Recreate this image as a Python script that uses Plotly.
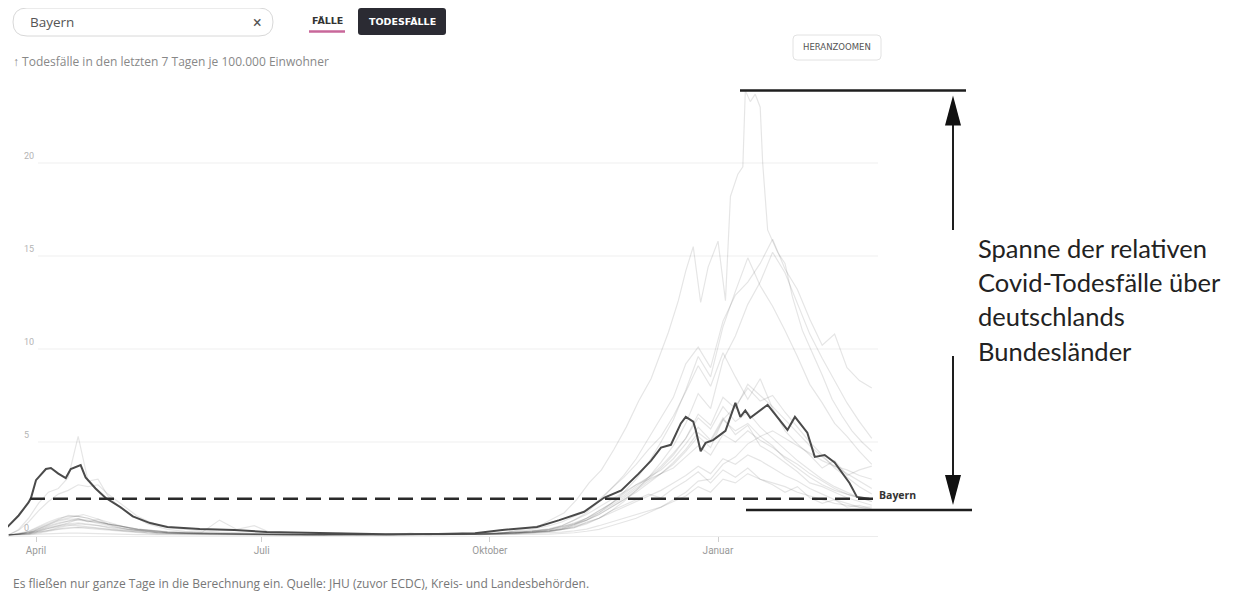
import pandas as pd
import plotly.graph_objects as go

# ---------------- data ----------------
# shared date grid for the other Länder (4-day in spring, weekly in summer, 5-day in winter)
grid_dates = (list(pd.date_range("2020-03-21", "2020-05-24", freq="4D"))
              + list(pd.date_range("2020-05-31", "2020-10-25", freq="7D"))
              + list(pd.date_range("2020-10-30", "2021-03-04", freq="5D")))

thueringen = [0.0, 0.02, 0.08, 0.2, 0.35, 0.5, 0.65, 0.85, 0.8, 0.7, 0.6, 0.5, 0.4, 0.3, 0.25, 0.2, 0.15,
              0.12, 0.1, 0.06, 0.05, 0.04, 0.02, 0.0, 0.0, 0.0, 0.0, 0.0, 0.02, 0.0, 0.0, 0.0, 0.02, 0.02, 0.05, 0.05, 0.1, 0.18, 0.3,
              0.5, 0.8, 1.2, 1.8, 2.5, 3.2, 4.1, 5.2, 6.3, 7.4, 9.2, 10.1, 9.0, 11.5, 12.9, 13.6, 14.6, 15.9, 14.3, 13.2, 11.6, 10.2, 10.8, 9.0, 8.3, 7.9]
sachsen_anhalt = [0.0, 0.0, 0.03, 0.1, 0.2, 0.3, 0.35, 0.4, 0.35, 0.3, 0.25, 0.2, 0.15, 0.1, 0.08, 0.05, 0.05,
                  0.04, 0.03, 0.02, 0.02, 0.0, 0.0, 0.0, 0.0, 0.0, 0.0, 0.0, 0.0, 0.0, 0.0, 0.0, 0.0, 0.02, 0.02, 0.04, 0.06, 0.1, 0.18,
                  0.3, 0.5, 0.8, 1.2, 1.7, 2.3, 3.0, 3.9, 5.0, 6.2, 7.8, 9.6, 8.5, 11.2, 13.1, 14.9, 13.4, 12.3, 11.0, 9.6, 8.1, 7.1, 6.0, 5.3, 4.5, 3.8]
brandenburg = [0.0, 0.02, 0.06, 0.15, 0.25, 0.4, 0.5, 0.6, 0.55, 0.5, 0.4, 0.3, 0.25, 0.2, 0.15, 0.12, 0.1,
               0.08, 0.06, 0.05, 0.04, 0.02, 0.02, 0.0, 0.0, 0.0, 0.0, 0.0, 0.0, 0.0, 0.0, 0.0, 0.02, 0.02, 0.04, 0.05, 0.08, 0.12, 0.2,
               0.3, 0.4, 0.6, 0.9, 1.3, 1.8, 2.4, 3.1, 3.9, 4.8, 6.0, 7.6, 6.8, 9.4, 10.7, 12.4, 13.6, 15.2, 14.1, 12.5, 10.8, 9.5, 8.3, 7.1, 6.1, 5.2]
berlin = [0.0, 0.03, 0.1, 0.2, 0.35, 0.45, 0.55, 0.5, 0.45, 0.4, 0.32, 0.25, 0.2, 0.15, 0.12, 0.1, 0.08,
          0.07, 0.06, 0.05, 0.04, 0.03, 0.02, 0.02, 0.02, 0.01, 0.02, 0.02, 0.02, 0.03, 0.03, 0.04, 0.05, 0.06, 0.08, 0.1, 0.15, 0.2, 0.3,
          0.45, 0.6, 0.8, 1.1, 1.5, 1.9, 2.3, 2.8, 3.3, 3.8, 4.5, 5.3, 4.7, 6.2, 6.9, 7.9, 7.2, 7.5, 6.6, 5.8, 5.0, 4.3, 3.6, 3.1, 2.6, 2.2]
hessen = [0.0, 0.08, 0.2, 0.45, 0.7, 0.9, 1.0, 1.0, 0.9, 0.75, 0.6, 0.5, 0.4, 0.32, 0.26, 0.2, 0.16,
          0.12, 0.1, 0.08, 0.06, 0.05, 0.04, 0.03, 0.03, 0.02, 0.02, 0.02, 0.03, 0.03, 0.04, 0.04, 0.05, 0.06, 0.08, 0.1, 0.14, 0.2, 0.3,
          0.45, 0.65, 0.9, 1.2, 1.6, 2.0, 2.5, 3.0, 3.6, 4.3, 5.2, 6.5, 5.9, 7.4, 6.8, 8.1, 7.5, 6.9, 6.2, 5.5, 4.8, 4.2, 3.7, 3.3, 2.9, 2.5]
saarland = [0.0, 0.3, 0.9, 1.7, 2.3, 2.5, 3.1, 5.3, 2.9, 3.0, 2.1, 1.6, 1.2, 0.9, 0.6, 0.45, 0.3,
            0.2, 0.15, 0.8, 0.3, 0.5, 0.1, 0.1, 0.0, 0.0, 0.1, 0.0, 0.0, 0.0, 0.1, 0.0, 0.0, 0.1, 0.0, 0.1, 0.2, 0.3, 0.5,
            0.7, 1.0, 1.3, 1.9, 2.5, 3.1, 3.8, 4.6, 5.3, 6.4, 7.7, 9.1, 8.0, 9.8, 8.5, 7.3, 8.4, 6.8, 5.6, 4.9, 4.3, 3.6, 4.0, 3.2, 3.5, 3.7]
baden_wuerttemberg = [0.02, 0.25, 0.7, 1.3, 1.8, 2.2, 2.4, 2.7, 2.6, 2.7, 2.2, 1.8, 1.4, 1.0, 0.75, 0.55, 0.4,
                      0.3, 0.22, 0.16, 0.12, 0.09, 0.06, 0.05, 0.04, 0.03, 0.02, 0.02, 0.02, 0.02, 0.03, 0.03, 0.04, 0.05, 0.06, 0.08, 0.11, 0.16, 0.26,
                      0.4, 0.6, 0.9, 1.3, 1.7, 2.1, 2.6, 3.1, 3.7, 4.4, 5.2, 6.3, 5.7, 6.9, 6.1, 6.6, 5.8, 5.2, 4.6, 4.0, 3.5, 3.0, 2.6, 2.3, 2.0, 1.8]
nordrhein_westfalen = [0.0, 0.04, 0.12, 0.3, 0.5, 0.65, 0.75, 0.8, 0.75, 0.68, 0.58, 0.48, 0.4, 0.32, 0.26, 0.2, 0.18,
                       0.15, 0.12, 0.1, 0.09, 0.08, 0.06, 0.05, 0.04, 0.04, 0.04, 0.03, 0.03, 0.03, 0.04, 0.04, 0.05, 0.06, 0.08, 0.1, 0.15, 0.22, 0.35,
                       0.5, 0.8, 1.1, 1.5, 1.9, 2.3, 2.7, 3.0, 3.3, 3.6, 4.2, 4.8, 4.3, 5.4, 5.0, 5.6, 5.1, 4.7, 4.2, 3.8, 3.3, 2.9, 2.5, 2.2, 2.0, 1.8]
rheinland_pfalz = [0.0, 0.05, 0.15, 0.35, 0.55, 0.75, 0.85, 0.85, 0.75, 0.62, 0.5, 0.4, 0.3, 0.25, 0.2, 0.15, 0.12,
                   0.1, 0.08, 0.06, 0.05, 0.04, 0.03, 0.02, 0.02, 0.02, 0.01, 0.01, 0.02, 0.02, 0.02, 0.03, 0.03, 0.04, 0.05, 0.07, 0.1, 0.15, 0.22,
                   0.35, 0.55, 0.8, 1.1, 1.5, 1.9, 2.4, 2.9, 3.3, 3.9, 4.6, 5.5, 5.0, 6.2, 5.6, 6.0, 5.3, 4.8, 4.1, 3.6, 3.1, 2.7, 2.4, 2.2, 2.0, 1.9]
niedersachsen = [0.0, 0.04, 0.12, 0.25, 0.4, 0.5, 0.6, 0.65, 0.6, 0.52, 0.44, 0.36, 0.3, 0.24, 0.2, 0.15, 0.12,
                 0.1, 0.08, 0.07, 0.06, 0.05, 0.04, 0.03, 0.03, 0.02, 0.02, 0.02, 0.02, 0.02, 0.02, 0.03, 0.03, 0.04, 0.05, 0.07, 0.1, 0.15, 0.22,
                 0.3, 0.45, 0.65, 0.9, 1.2, 1.5, 1.8, 2.1, 2.4, 2.8, 3.2, 3.7, 3.3, 4.1, 3.8, 4.3, 4.0, 3.6, 3.2, 2.9, 2.5, 2.2, 1.9, 1.7, 1.5, 1.35]
hamburg = [0.0, 0.05, 0.18, 0.4, 0.65, 0.85, 1.05, 1.0, 0.9, 0.72, 0.55, 0.42, 0.32, 0.24, 0.18, 0.12, 0.1,
           0.08, 0.06, 0.05, 0.04, 0.03, 0.02, 0.02, 0.0, 0.0, 0.02, 0.0, 0.0, 0.02, 0.02, 0.03, 0.04, 0.05, 0.06, 0.08, 0.1, 0.16, 0.24,
           0.35, 0.55, 0.9, 1.3, 1.7, 2.2, 2.7, 3.1, 3.5, 4.1, 4.9, 5.8, 5.1, 6.3, 5.4, 5.9, 4.8, 4.4, 3.9, 3.4, 2.8, 2.6, 2.3, 2.0, 1.8, 1.6]
bremen = [0.0, 0.04, 0.1, 0.25, 0.45, 0.6, 0.75, 0.9, 0.7, 0.85, 0.6, 0.5, 0.4, 0.32, 0.28, 0.2, 0.15,
          0.12, 0.1, 0.08, 0.05, 0.04, 0.02, 0.0, 0.0, 0.0, 0.0, 0.02, 0.0, 0.0, 0.0, 0.02, 0.0, 0.03, 0.05, 0.07, 0.1, 0.14, 0.2,
          0.3, 0.4, 0.7, 0.9, 1.3, 1.6, 1.9, 2.2, 2.0, 2.5, 2.9, 3.4, 2.8, 3.5, 3.1, 3.6, 3.0, 2.7, 2.3, 2.6, 2.0, 1.7, 1.9, 1.5, 1.6, 1.4]
schleswig_holstein = [0.0, 0.02, 0.06, 0.15, 0.25, 0.33, 0.4, 0.42, 0.4, 0.35, 0.3, 0.25, 0.2, 0.15, 0.12, 0.1, 0.08,
                      0.06, 0.05, 0.04, 0.03, 0.02, 0.02, 0.01, 0.01, 0.01, 0.01, 0.01, 0.01, 0.01, 0.01, 0.02, 0.02, 0.03, 0.03, 0.04, 0.06, 0.08, 0.1,
                      0.15, 0.22, 0.32, 0.5, 0.7, 0.9, 1.1, 1.3, 1.5, 1.8, 2.1, 2.6, 2.3, 3.0, 2.8, 3.3, 3.0, 2.8, 2.6, 2.3, 2.1, 1.9, 1.7, 1.6, 1.5, 1.5]
mecklenburg_vorpommern = [0.0, 0.0, 0.02, 0.05, 0.08, 0.1, 0.1, 0.1, 0.08, 0.06, 0.05, 0.04, 0.03, 0.02, 0.02, 0.01, 0.01,
                          0.01, 0.01, 0.0, 0.0, 0.0, 0.0, 0.0, 0.0, 0.0, 0.0, 0.0, 0.0, 0.0, 0.0, 0.0, 0.0, 0.0, 0.01, 0.01, 0.02, 0.03, 0.05,
                          0.08, 0.12, 0.2, 0.3, 0.5, 0.7, 0.9, 1.2, 1.5, 1.9, 2.3, 2.9, 3.0, 3.8, 4.2, 4.9, 5.3, 5.6, 5.2, 4.8, 4.4, 4.0, 3.7, 3.5, 3.2, 3.0]

# Sachsen (own dates, the sharp January peak)
sachsen_dates = ["2020-03-21", "2020-03-31", "2020-04-10", "2020-04-20", "2020-04-30", "2020-05-10", "2020-05-20",
                 "2020-06-10", "2020-07-15", "2020-08-19", "2020-09-16", "2020-10-07", "2020-10-21", "2020-10-31",
                 "2020-11-05", "2020-11-10", "2020-11-15", "2020-11-20", "2020-11-25", "2020-11-30", "2020-12-05",
                 "2020-12-09", "2020-12-12", "2020-12-16", "2020-12-19", "2020-12-22", "2020-12-25", "2020-12-28",
                 "2021-01-01", "2021-01-04", "2021-01-06", "2021-01-09", "2021-01-11", "2021-01-12", "2021-01-14",
                 "2021-01-16", "2021-01-18", "2021-01-19", "2021-01-21", "2021-01-25", "2021-01-28", "2021-01-31",
                 "2021-02-04", "2021-02-08", "2021-02-12", "2021-02-16", "2021-02-20", "2021-02-24", "2021-02-28",
                 "2021-03-04"]
sachsen_values = [0.0, 0.2, 0.8, 1.1, 0.7, 0.3, 0.15,
                  0.05, 0.0, 0.0, 0.05, 0.12, 0.5, 1.2,
                  1.9, 2.8, 3.5, 4.6, 5.8, 7.2, 8.4,
                  9.8, 10.9, 12.6, 14.2, 15.5, 12.5, 14.4,
                  15.8, 12.6, 18.2, 19.4, 19.8, 23.9, 23.3,
                  23.7, 23.0, 20.0, 16.4, 15.2, 14.6, 12.8,
                  11.0, 9.8, 8.6, 7.3, 6.4, 5.6, 5.0,
                  4.5]

# Bayern (highlighted)
bayern_dates = ["2020-03-20", "2020-03-25", "2020-03-29", "2020-03-30", "2020-04-01", "2020-04-05", "2020-04-07",
                "2020-04-10", "2020-04-13", "2020-04-15", "2020-04-19", "2020-04-21", "2020-04-25", "2020-04-29",
                "2020-05-05", "2020-05-10", "2020-05-17", "2020-05-24", "2020-06-06", "2020-06-20", "2020-07-03",
                "2020-07-29", "2020-08-20", "2020-09-10", "2020-09-25", "2020-10-06", "2020-10-20", "2020-10-29",
                "2020-11-08", "2020-11-16", "2020-11-23", "2020-11-30", "2020-12-05", "2020-12-09", "2020-12-13",
                "2020-12-17", "2020-12-19", "2020-12-22", "2020-12-23", "2020-12-25", "2020-12-27", "2020-12-30",
                "2021-01-04", "2021-01-08", "2021-01-10", "2021-01-12", "2021-01-14", "2021-01-21", "2021-01-29",
                "2021-02-01", "2021-02-06", "2021-02-09", "2021-02-13", "2021-02-17", "2021-02-23", "2021-02-26",
                "2021-03-03"]
bayern_values = [0.37, 1.05, 1.75, 2.0, 2.95, 3.55, 3.6,
                 3.3, 3.06, 3.55, 3.76, 3.1, 2.5, 2.0,
                 1.5, 1.0, 0.64, 0.43, 0.32, 0.27, 0.16,
                 0.08, 0.04, 0.05, 0.1, 0.27, 0.43, 0.8,
                 1.25, 2.0, 2.4, 3.3, 4.0, 4.7, 4.85,
                 6.0, 6.35, 6.1, 5.65, 4.5, 4.95, 5.1,
                 5.6, 7.1, 6.35, 6.7, 6.3, 7.0, 5.65,
                 6.35, 5.5, 4.2, 4.3, 3.9, 2.8, 2.05,
                 1.95]

other_states = {
    "Thüringen": thueringen, "Sachsen-Anhalt": sachsen_anhalt, "Brandenburg": brandenburg,
    "Berlin": berlin, "Hessen": hessen, "Saarland": saarland, "Baden-Württemberg": baden_wuerttemberg,
    "Nordrhein-Westfalen": nordrhein_westfalen, "Rheinland-Pfalz": rheinland_pfalz,
    "Niedersachsen": niedersachsen, "Hamburg": hamburg, "Bremen": bremen,
    "Schleswig-Holstein": schleswig_holstein, "Mecklenburg-Vorpommern": mecklenburg_vorpommern,
}

x_tickvals = ["2020-04-01", "2020-07-01", "2020-10-01", "2021-01-01"]
x_ticktext = ["April", "Juli", "Oktober", "Januar"]
y_ticks = [0, 5, 10, 15, 20]

# ---------------- layout geometry (reference pixel coords) ----------------
W, H = 1247, 596
OFF = 8                   # page body margin of the browser
X0, X1 = 8, 878           # plot area in reference px
Y_TOP, Y_BOT = 76, 536
YMIN = -0.054
YMAX = YMIN + (Y_BOT - Y_TOP) / 18.6


def px(x):
    return (x - X0) / (X1 - X0)


def py(y):
    return (Y_BOT - y) / (Y_BOT - Y_TOP)


def vpx(v):  # value -> reference pixel y
    return Y_BOT - (v - YMIN) / (YMAX - YMIN) * (Y_BOT - Y_TOP)


def rrect(x0, y0, x1, y1, r):
    return (f"M{px(x0 + r)},{py(y0)} L{px(x1 - r)},{py(y0)} Q{px(x1)},{py(y0)} {px(x1)},{py(y0 + r)} "
            f"L{px(x1)},{py(y1 - r)} Q{px(x1)},{py(y1)} {px(x1 - r)},{py(y1)} "
            f"L{px(x0 + r)},{py(y1)} Q{px(x0)},{py(y1)} {px(x0)},{py(y1 - r)} "
            f"L{px(x0)},{py(y0 + r)} Q{px(x0)},{py(y0)} {px(x0 + r)},{py(y0)} Z")


fig = go.Figure()

GRAY = "rgba(0,0,0,0.10)"
for name, vals in other_states.items():
    fig.add_trace(go.Scatter(x=grid_dates, y=vals, mode="lines", name=name,
                             line=dict(color=GRAY, width=1.2), hoverinfo="skip"))
fig.add_trace(go.Scatter(x=sachsen_dates, y=sachsen_values, mode="lines", name="Sachsen",
                         line=dict(color=GRAY, width=1.2), hoverinfo="skip"))
fig.add_trace(go.Scatter(x=bayern_dates, y=bayern_values, mode="lines", name="Bayern",
                         line=dict(color="#4a4a4a", width=2), hoverinfo="skip"))

UI = "Roboto, Arial, sans-serif"
OS = "'Open Sans', Roboto, sans-serif"
DJ = "'DejaVu Sans', sans-serif"
shapes = []
annotations = []

# gridlines (start right of the labels)
for v in y_ticks[1:]:
    shapes.append(dict(type="line", xref="paper", yref="y", x0=px(38), x1=1, y0=v, y1=v,
                       line=dict(color="#efefef", width=1), layer="below"))
for v in y_ticks:
    annotations.append(dict(xref="paper", yref="y", x=px(22), y=v, text=str(v), showarrow=False,
                            xanchor="left", yanchor="middle", yshift=7,
                            font=dict(family=UI, size=9, color="#b4b4b4")))

# dashed reference line at Bayern's current value
cur = bayern_values[-1]
shapes.append(dict(type="line", xref="paper", yref="y", x0=px(30), x1=px(875), y0=cur, y1=cur,
                   line=dict(color="#2a2a2a", width=2.5, dash="15px,8px")))
annotations.append(dict(xref="x", yref="y", x=bayern_dates[-1], y=cur, text="<b>Bayern</b>",
                        showarrow=False, xanchor="left", yanchor="middle", xshift=8, yshift=4,
                        font=dict(family=OS, size=10.5, color="#333")))

# span annotation
all_vals = sachsen_values + bayern_values + [v for s in other_states.values() for v in s]
vmax = max(all_vals)
last_vals = [sachsen_values[-1], bayern_values[-1]] + [s[-1] for s in other_states.values()]
vmin = min(last_vals)
ty, by = vpx(vmax), vpx(vmin)
ax = 953
shapes += [
    dict(type="line", xref="paper", yref="paper", x0=px(740), x1=px(966), y0=py(ty), y1=py(ty),
         line=dict(color="#1e1e1e", width=2.5)),
    dict(type="line", xref="paper", yref="paper", x0=px(746), x1=px(972), y0=py(by), y1=py(by),
         line=dict(color="#1e1e1e", width=2.5)),
    dict(type="line", xref="paper", yref="paper", x0=px(ax), x1=px(ax), y0=py(ty + 32), y1=py(230),
         line=dict(color="#1e1e1e", width=2)),
    dict(type="line", xref="paper", yref="paper", x0=px(ax), x1=px(ax), y0=py(356), y1=py(by - 32),
         line=dict(color="#1e1e1e", width=2)),
    dict(type="path", xref="paper", yref="paper",
         path=f"M{px(ax)},{py(ty + 5)} L{px(ax - 8)},{py(ty + 35)} L{px(ax + 8)},{py(ty + 35)} Z",
         fillcolor="#111", line=dict(width=0)),
    dict(type="path", xref="paper", yref="paper",
         path=f"M{px(ax)},{py(by - 5)} L{px(ax - 8)},{py(by - 35)} L{px(ax + 8)},{py(by - 35)} Z",
         fillcolor="#111", line=dict(width=0)),
]
for txt, yy in [("Spanne der relativen", 248), ("Covid-Todesfälle über", 282),
                ("deutschlands", 316), ("Bundesländer", 351)]:
    annotations.append(dict(xref="paper", yref="paper", x=px(976), y=py(yy), text=txt, showarrow=False,
                            xanchor="left", yanchor="middle",
                            font=dict(family="Lato, 'Open Sans', sans-serif", size=25.5, color="#222")))

# top UI widgets
shapes += [
    dict(type="path", xref="paper", yref="paper", path=rrect(13, 8, 273, 36, 14),
         line=dict(color="#d8d8d8", width=1), fillcolor="white"),
    dict(type="line", xref="paper", yref="paper", x0=px(309), x1=px(345), y0=py(31.5), y1=py(31.5),
         line=dict(color="#c8679a", width=2.5)),
    dict(type="path", xref="paper", yref="paper", path=rrect(358, 8, 446, 35, 3),
         line=dict(width=0), fillcolor="#2b2b33"),
    dict(type="path", xref="paper", yref="paper", path=rrect(793, 35, 881, 60, 4),
         line=dict(color="#e2e2e2", width=1), fillcolor="white"),
]
annotations += [
    dict(xref="paper", yref="paper", x=px(28), y=py(22), text="Bayern", showarrow=False,
         xanchor="left", yanchor="middle", font=dict(family=OS, size=13.5, color="#555")),
    dict(xref="paper", yref="paper", x=px(258), y=py(22), text="×", showarrow=False,
         xanchor="center", yanchor="middle", font=dict(family=UI, size=16, color="#555")),
    dict(xref="paper", yref="paper", x=px(327), y=py(21), text="<b>FÄLLE</b>", showarrow=False,
         xanchor="center", yanchor="middle", font=dict(family=DJ, size=9.5, color="#333")),
    dict(xref="paper", yref="paper", x=px(402), y=py(21.5), text="<b>TODESFÄLLE</b>", showarrow=False,
         xanchor="center", yanchor="middle", font=dict(family=DJ, size=9.5, color="white")),
    dict(xref="paper", yref="paper", x=px(837), y=py(47.5), text="HERANZOOMEN", showarrow=False,
         xanchor="center", yanchor="middle", font=dict(family=DJ, size=8.5, color="#555")),
    dict(xref="paper", yref="paper", x=px(11), y=py(62), text="↑ Todesfälle in den letzten 7 Tagen je 100.000 Einwohner",
         showarrow=False, xanchor="left", yanchor="middle", font=dict(family=OS, size=12, color="#888")),
    dict(xref="paper", yref="paper", x=px(11), y=py(594),
         text="Es fließen nur ganze Tage in die Berechnung ein. Quelle: JHU (zuvor ECDC), Kreis- und Landesbehörden.",
         showarrow=False, xanchor="left", yanchor="bottom", font=dict(family=OS, size=12, color="#777")),
]

FW, FH = W - OFF, H - OFF   # figure size inside the page margin
fig.update_layout(
    width=FW, height=FH,
    margin=dict(l=X0 - OFF, r=FW - (X1 - OFF), t=Y_TOP - OFF, b=FH - (Y_BOT - OFF)),
    paper_bgcolor="white", plot_bgcolor="white",
    showlegend=False, hovermode=False,
    shapes=shapes, annotations=annotations,
    xaxis=dict(type="date", range=["2020-03-20 17:00", "2021-03-06 12:00"],
               tickvals=x_tickvals, ticktext=x_ticktext, showgrid=False, zeroline=False,
               showline=True, linecolor="#ececec", linewidth=1,
               ticks="outside", ticklen=5, tickcolor="#cfcfcf", tickwidth=1,
               tickfont=dict(family=UI, size=10, color="#9a9a9a")),
    yaxis=dict(range=[YMIN, YMAX], showgrid=False, zeroline=False, showticklabels=False,
               showline=False),
)

fig.write_html("out.html", config={"displayModeBar": False})
